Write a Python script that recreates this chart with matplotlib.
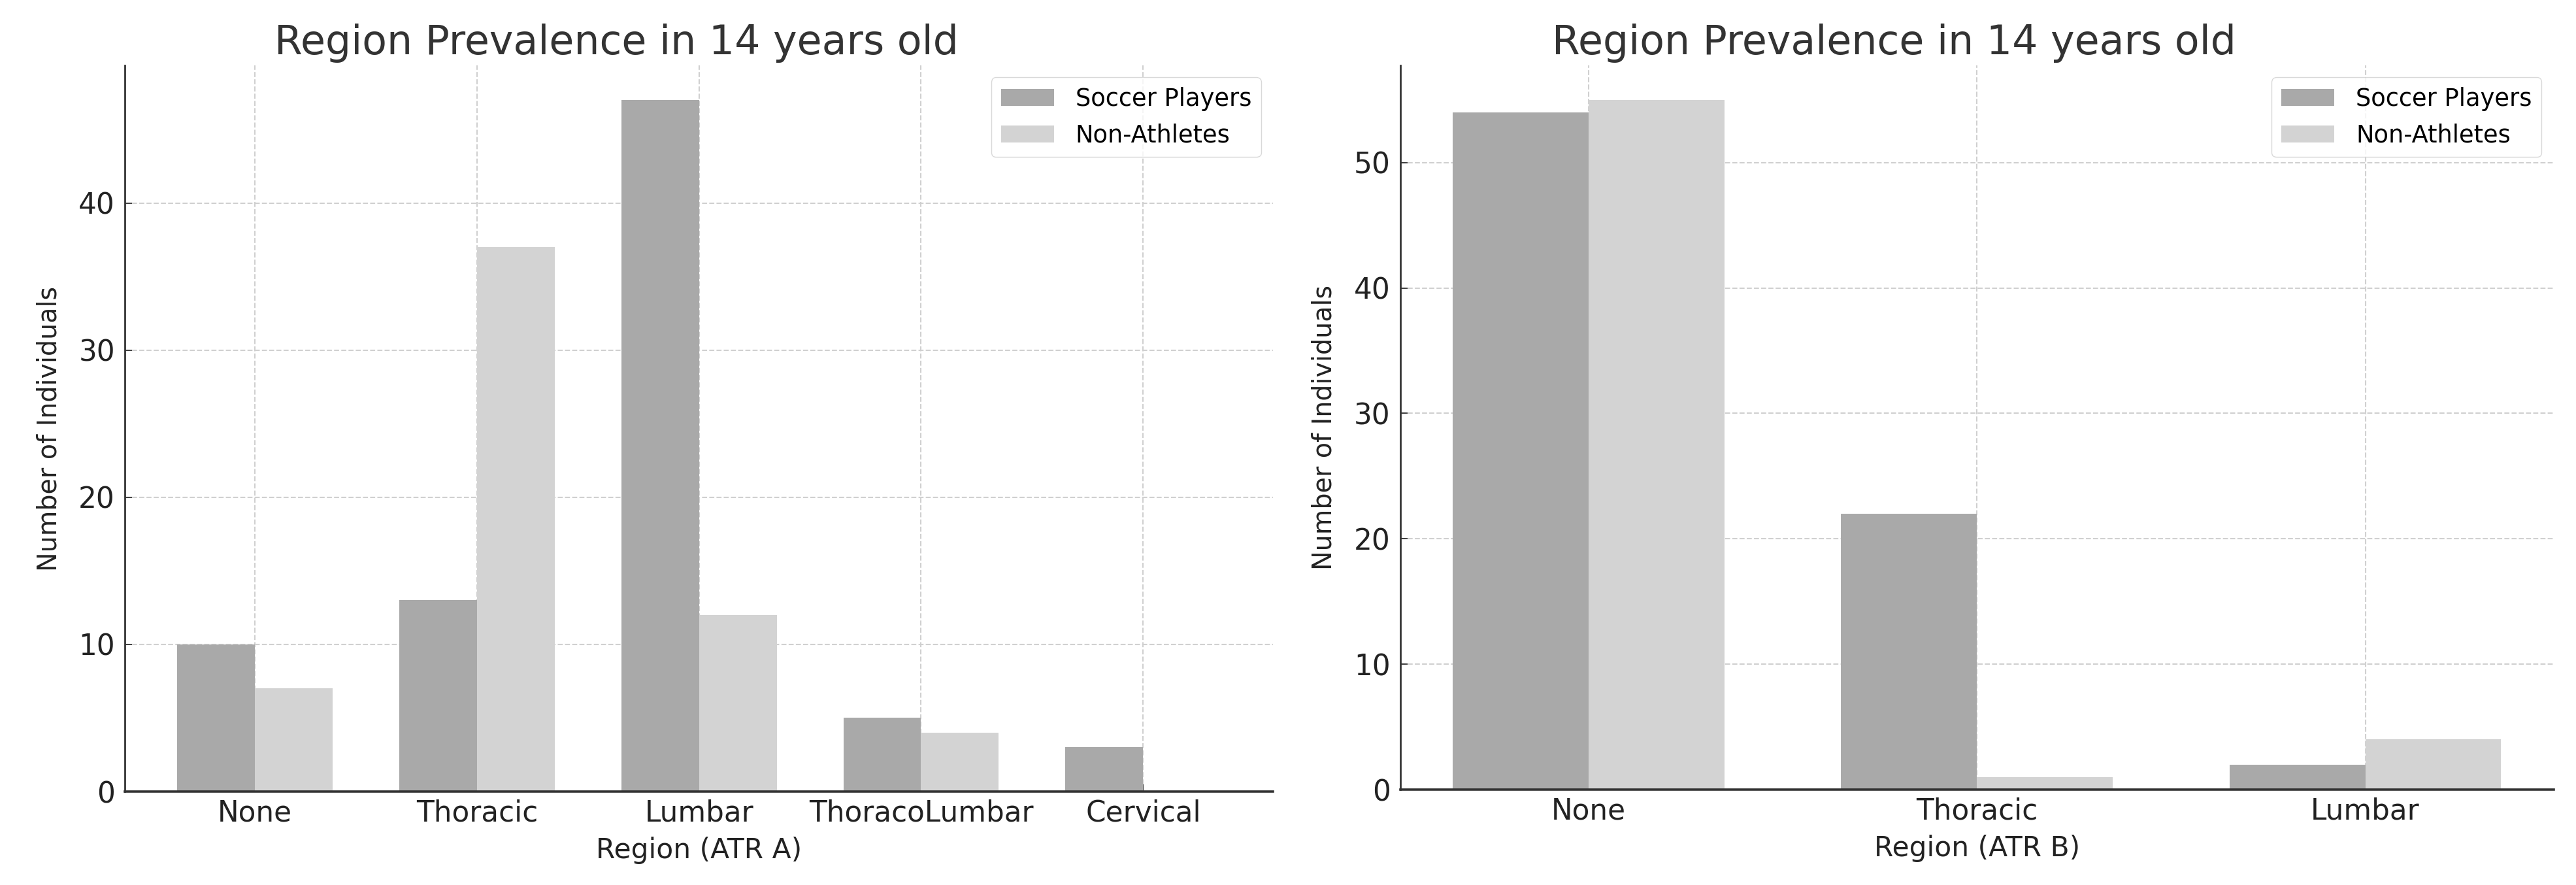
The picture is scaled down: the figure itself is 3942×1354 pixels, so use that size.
import matplotlib
matplotlib.use("Agg")
import matplotlib.pyplot as plt
import numpy as np

# Dữ liệu ATR A
regions_a = ['None', 'Thoracic', 'Lumbar', 'ThoracoLumbar', 'Cervical']
soccer_a = [10, 13, 47, 5, 3]
non_athletes_a = [7, 37, 12, 4, 0]

# Dữ liệu ATR B
regions_b = ['None', 'Thoracic', 'Lumbar']
soccer_b = [54, 22, 2]
non_athletes_b = [55, 1, 4]

title = 'Region Prevalence in 14 years old'
bar_width = 0.35


def draw_panel(ax, regions, soccer, non_athletes, xlabel):
    x = np.arange(len(regions))
    ax.bar(x - bar_width / 2, soccer, bar_width, color='darkgray', label='Soccer Players')
    ax.bar(x + bar_width / 2, non_athletes, bar_width, color='lightgray', label='Non-Athletes')
    ax.set_xticks(x)
    ax.set_xticklabels(regions)
    ax.set_title(title, fontsize=44.5, pad=12, x=0.428, color='#333333')
    ax.set_xlabel(xlabel, fontsize=30.5, labelpad=11, color='#222222')
    ax.set_ylabel('Number of Individuals', fontsize=28.5, labelpad=18, color='#222222')
    ax.tick_params(axis='both', direction='in', length=8, width=1.2, labelsize=31.5,
                   colors='#222222')
    ax.tick_params(axis='x', pad=8)
    ax.tick_params(axis='y', pad=11)
    ax.set_axisbelow(True)
    ax.grid(True, linestyle='--', color='#d0d0d0', linewidth=1.5)
    ax.spines['top'].set_visible(False)
    ax.spines['right'].set_visible(False)
    ax.spines['left'].set_linewidth(2.0)
    ax.spines['left'].set_color('#333333')
    ax.spines['bottom'].set_linewidth(2.6)
    ax.spines['bottom'].set_color('#333333')
    ax.legend(loc='upper right', fontsize=26.5, edgecolor='#d0d0d0', handlelength=2.2,
              handletextpad=0.9)


fig = plt.figure(figsize=(39.42, 13.54), dpi=100)
ax1 = fig.add_axes([0.0485, 0.1056, 0.4457, 0.8205])
ax2 = fig.add_axes([0.5436, 0.1078, 0.4477, 0.8183])

draw_panel(ax1, regions_a, soccer_a, non_athletes_a, 'Region (ATR A)')
draw_panel(ax2, regions_b, soccer_b, non_athletes_b, 'Region (ATR B)')

fig.savefig('out.png', dpi=100)
plt.close(fig)
